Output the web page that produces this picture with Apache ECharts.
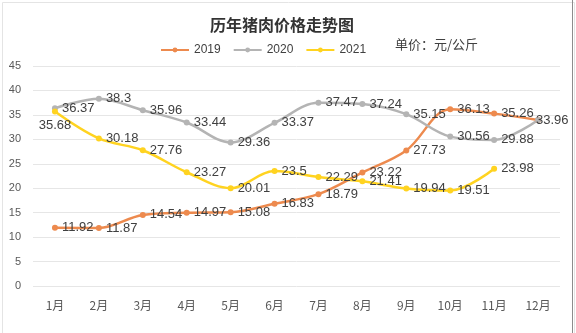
<!DOCTYPE html>
<html>
<head>
<meta charset="utf-8">
<script src="https://cdn.jsdelivr.net/npm/echarts@6/dist/echarts.min.js"></script>
<style>
  html, body { margin: 0; padding: 0; background: #fff; }
  #chart { width: 576px; height: 333px; }
</style>
</head>
<body>
<div id="chart"></div>
<script>
// Monthly pork price, yuan per kg
const months = ['1月', '2月', '3月', '4月', '5月', '6月', '7月', '8月', '9月', '10月', '11月', '12月'];
const price2019 = [11.92, 11.87, 14.54, 14.97, 15.08, 16.83, 18.79, 23.22, 27.73, 36.13, 35.26, 33.96];
const price2020 = [36.37, 38.3, 35.96, 33.44, 29.36, 33.37, 37.47, 37.24, 35.15, 30.56, 29.88, 33.96];
const price2021 = [35.68, 30.18, 27.76, 23.27, 20.01, 23.5, 22.29, 21.41, 19.94, 19.51, 23.98];
const yTicks = { min: 0, max: 45, step: 5 };

const chart = echarts.init(document.getElementById('chart'), null, { renderer: 'canvas' });

// overrides: { index: labelOptions } for individual points
function lineSeries(name, values, color, overrides) {
  overrides = overrides || {};
  return {
    name: name,
    type: 'line',
    smooth: 0.35,
    data: values.map((v, i) => overrides[i] ? { value: v, label: overrides[i] } : v),
    symbol: 'circle',
    symbolSize: 6,
    lineStyle: { width: 2.5, color: color },
    itemStyle: { color: color },
    label: {
      show: true,
      position: 'right',
      distance: 4,
      color: '#404040',
      fontSize: 13,
      fontFamily: 'Liberation Sans, Arial, sans-serif'
    },
    emphasis: { disabled: true }
  };
}

chart.setOption({
  animation: false,
  backgroundColor: '#fff',
  title: {
    text: '历年猪肉价格走势图',
    left: 205,
    top: 12,
    textStyle: { fontSize: 16, fontWeight: 'bold', color: '#333', fontFamily: 'Noto Sans CJK SC' }
  },
  legend: {
    top: 39,
    left: 155,
    itemWidth: 28,
    itemHeight: 6,
    itemGap: 12,
    textStyle: { fontSize: 12, color: '#404040', fontFamily: 'Liberation Sans, Arial, sans-serif' },
    data: ['2019', '2020', '2021']
  },
  graphic: [
    {
      type: 'text',
      left: 395,
      top: 38,
      style: { text: '单价：元/公斤', fontSize: 13, fill: '#404040', fontFamily: 'Noto Sans CJK SC' }
    },
    {
      type: 'rect',
      left: 0, top: 0,
      shape: { width: 572, height: 331 },
      style: { fill: 'none', stroke: '#e4e4e4', lineWidth: 1 },
      silent: true
    },
    {
      type: 'line',
      shape: { x1: 572.5, y1: 0, x2: 572.5, y2: 333 },
      style: { stroke: '#8c8c8c', lineWidth: 1 },
      silent: true
    }
  ],
  grid: { left: 33, right: 16, top: 66, bottom: 47, containLabel: false },
  xAxis: {
    type: 'category',
    data: months,
    boundaryGap: true,
    axisLine: { show: false },
    axisTick: { show: false },
    axisLabel: { color: '#595959', fontSize: 12, margin: 13, fontFamily: 'Noto Sans CJK SC' }
  },
  yAxis: {
    type: 'value',
    min: yTicks.min,
    max: yTicks.max,
    interval: yTicks.step,
    axisLine: { show: false },
    axisTick: { show: false },
    axisLabel: { color: '#595959', fontSize: 11, margin: 12, fontFamily: 'Liberation Sans, Arial, sans-serif' },
    splitLine: { lineStyle: { color: '#e6e6e6', width: 1 } }
  },
  series: [
    // December values of 2019 and 2020 coincide; one label is enough there
    lineSeries('2019', price2019, '#ED8A4E', { 11: { show: false } }),
    lineSeries('2020', price2020, '#B4B4B4', { 11: { offset: [-9, 0] } }),
    lineSeries('2021', price2021, '#FFD320', { 0: { position: 'bottom' } })
  ]
});
</script>
</body>
</html>
